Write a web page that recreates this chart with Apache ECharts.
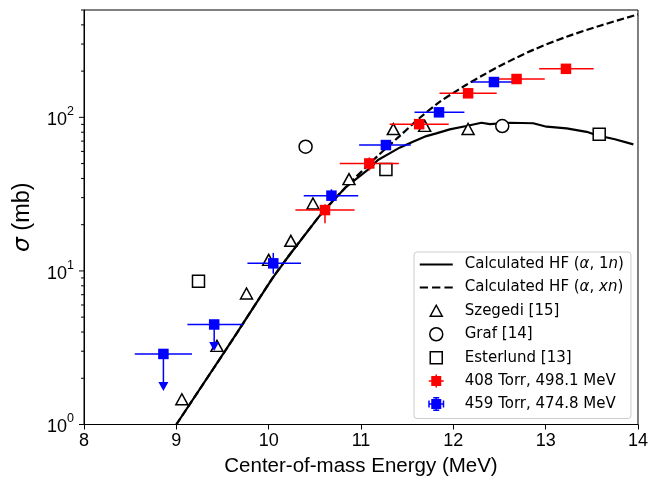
<!DOCTYPE html>
<html><head><meta charset="utf-8">
<script src="https://cdn.jsdelivr.net/npm/echarts@6/dist/echarts.min.js"></script>
<style>html,body{margin:0;padding:0;background:#fff}#c{width:651px;height:485px}</style>
</head><body><div id="c"></div>
<script>
// ---- axis ticks ----
const xTicks = [8, 9, 10, 11, 12, 13, 14];
const yMajorTicks = [1, 10, 100];
const yMinorTicks = [2, 3, 4, 5, 6, 7, 8, 9, 20, 30, 40, 50, 60, 70, 80, 90, 200, 300, 400, 500];

// ---- calculated HF (alpha,1n) ----
const hf1nE = [9.0, 9.6, 10.04, 10.225, 10.53, 10.604, 10.84, 11.093, 11.183, 11.31, 11.418, 11.563, 11.708, 11.816, 11.961, 12.142, 12.305, 12.395, 12.612, 12.865, 13.01, 13.227, 13.444, 13.553, 13.75, 13.95];
const hf1nS = [1.0, 3.5, 8.94, 12.7, 22.0, 24.9, 35.3, 46.5, 52.7, 58.3, 63.5, 69.4, 75.5, 78.7, 83.5, 87.8, 92.2, 90.4, 92.2, 91.5, 86.9, 84.8, 80.5, 76.5, 72.0, 66.7];
// ---- calculated HF (alpha,xn) ----
const hfxnE = [9.0, 9.6, 10.04, 10.225, 10.53, 10.604, 10.84, 11.093, 11.2, 11.31, 11.418, 11.635, 11.852, 12.0, 12.142, 12.32, 12.503, 12.865, 13.227, 13.589, 14.0];
const hfxnS = [1.0, 3.5, 8.94, 12.7, 22.0, 24.9, 35.3, 50, 57.5, 66, 75.5, 99, 126, 144, 163, 188, 216, 275, 335, 395, 468];

// ---- literature data ----
const szegediE = [9.06, 9.44, 9.76, 10.00, 10.24, 10.48, 10.87, 11.35, 11.69, 12.16];
const szegediS = [1.46, 3.25, 7.13, 11.8, 15.7, 27.5, 39.6, 83.9, 88.0, 84.0];
const grafE = [10.40, 12.53];
const grafS = [64.4, 87.8];
const esterlundE = [9.24, 11.27, 13.58];
const esterlundS = [8.58, 45.8, 77.5];

// ---- 408 Torr, 498.1 MeV ----
const r408E = [10.61, 11.09, 11.63, 12.16, 12.685, 13.22];
const r408S = [24.9, 50.1, 90.3, 143.4, 177.7, 207];
const r408Elo = [10.29, 10.77, 11.31, 11.85, 12.43, 12.93];
const r408Ehi = [10.93, 11.41, 11.95, 12.47, 12.99, 13.52];
const r408Slo = [20.4, 45.0, 86, 137, 170, 198];
const r408Shi = [27.2, 54.8, 95, 150, 186, 216];

// ---- 459 Torr, 474.8 MeV ----
const b459E = [8.86, 9.41, 10.05, 10.68, 11.27, 11.845, 12.44];
const b459S = [2.88, 4.48, 11.2, 30.9, 66.0, 107.8, 169.8];
const b459Elo = [8.55, 9.12, 9.77, 10.38, 10.98, 11.58, 12.20];
const b459Ehi = [9.17, 9.72, 10.35, 10.97, 11.54, 12.12, 12.65];
const b459Slo = [1.78, 3.25, 9.6, 28.3, 63, 103, 162];
const b459Shi = [2.88, 4.48, 13.1, 34.0, 69, 113, 178];
const b459UpperLimit = [1, 1, 0, 0, 0, 0, 0];

const N1 = 'Calculated HF (α, 1n)';
const NX = 'Calculated HF (α, xn)';
const NS = 'Szegedi [15]';
const NG = 'Graf [14]';
const NE = 'Esterlund [13]';
const NR = '408 Torr, 498.1 MeV';
const NB = '459 Torr, 474.8 MeV';

const zip = (a, b) => a.map((v, i) => [v, b[i]]);

function errRender(color) {
  return function (params, api) {
    const x = api.value(0), y = api.value(1);
    const xl = api.value(2), xh = api.value(3), yl = api.value(4), yh = api.value(5), up = api.value(6);
    const pl = api.coord([xl, y]), ph = api.coord([xh, y]);
    const pb = api.coord([x, yl]), pt = api.coord([x, yh]);
    const st = { stroke: color, lineWidth: 1.5 };
    const ch = [
      { type: 'line', shape: { x1: pl[0], y1: pl[1], x2: ph[0], y2: ph[1] }, style: st },
      { type: 'line', shape: { x1: pt[0], y1: pt[1], x2: pb[0], y2: pb[1] }, style: st }
    ];
    if (up) {
      ch.push({ type: 'polygon', shape: { points: [[pb[0] - 5, pb[1] - 4], [pb[0] + 5, pb[1] - 4], [pb[0], pb[1] + 5]] }, style: { fill: color } });
    }
    return { type: 'group', children: ch };
  };
}
function tickRender(len) {
  return function (params, api) {
    const p = api.coord([xTicks[0], api.value(1)]);
    return { type: 'line', shape: { x1: p[0] - len, y1: p[1], x2: p[0], y2: p[1] }, style: { stroke: '#000', lineWidth: 1 } };
  };
}

// legend icons drawn in a 33x14 box (corner points fix the box)
const BOX = 'M0,0L0,0M33,14L33,14';
const icSolid = 'path://' + BOX + 'M0,5.9H33V8.1H0Z';
const icDash = 'path://' + BOX + 'M0,5.9H8.3V8.1H0Z M12.3,5.9H20.6V8.1H12.3Z M24.7,5.9H33V8.1H24.7Z';
const icTri = 'path://' + BOX + 'M16.5,1.5L22.5,12.5L10.5,12.5Z';
const icCirc = 'path://' + BOX + 'M10,7A6.5,6.5 0 1 1 23,7A6.5,6.5 0 1 1 10,7Z';
const icSq = 'path://' + BOX + 'M10.5,1H22.5V13H10.5Z';
const icErr = 'path://' + BOX + 'M11.5,2H21.5V12H11.5Z M9,6.25H24V7.75H9Z M15.75,0.5H17.25V13.5H15.75Z';
const icErrCap = icErr + ' M8.5,3.5H10V10.5H8.5Z M23,3.5H24.5V10.5H23Z M13.5,0H19.5V1.5H13.5Z M13.5,12.5H19.5V14H13.5Z';

const openStyle = { color: '#fff', borderColor: '#000', borderWidth: 1.5 };

const chart = echarts.init(document.getElementById('c'), null, { renderer: 'canvas' });
chart.setOption({
  animation: false,
  backgroundColor: '#fff',
  grid: { left: 84, right: 11.5, top: 10, bottom: 60.5, show: true, borderColor: '#000', borderWidth: 1, backgroundColor: 'transparent' },
  xAxis: {
    type: 'value', min: xTicks[0], max: xTicks[xTicks.length - 1], interval: 1,
    axisLine: { lineStyle: { color: '#000', width: 1 } },
    axisTick: { length: 5, lineStyle: { color: '#000', width: 1 } },
    axisLabel: { color: '#000', fontFamily: 'Liberation Sans', fontSize: 18, margin: 8 },
    splitLine: { show: false },
    name: 'Center-of-mass Energy (MeV)', nameLocation: 'middle', nameGap: 30,
    nameTextStyle: { color: '#000', fontFamily: 'Liberation Sans', fontSize: 20.5 }
  },
  yAxis: {
    type: 'log', logBase: 10, min: yMajorTicks[0], max: yMinorTicks[yMinorTicks.length - 1],
    axisLine: { lineStyle: { color: '#000', width: 1 } },
    axisTick: { show: false },
    splitLine: { show: false },
    minorTick: { show: false },
    axisLabel: {
      margin: 10,
      formatter: function (v) {
        const e = Math.round(Math.log10(v));
        if (Math.abs(Math.log10(v) - e) > 1e-6) return '';
        return '{b|10}{s|' + e + '}';
      },
      rich: {
        b: { fontFamily: 'Liberation Sans', fontSize: 18, color: '#000', verticalAlign: 'bottom', lineHeight: 24 },
        s: { fontFamily: 'Liberation Sans', fontSize: 12.5, color: '#000', verticalAlign: 'top', lineHeight: 24 }
      }
    },
    name: '{i|σ}{t| (mb)}', nameLocation: 'middle', nameGap: 49, nameRotate: 90,
    nameTextStyle: {
      color: '#000', fontFamily: 'Liberation Sans', fontSize: 23.5,
      rich: {
        i: { fontFamily: 'DejaVu Sans', fontStyle: 'italic', fontSize: 23.5, color: '#000' },
        t: { fontFamily: 'Liberation Sans', fontSize: 23.5, color: '#000' }
      }
    }
  },
  legend: {
    orient: 'vertical', left: 414, top: 252,
    padding: [5, 7, 7, 5], itemGap: 8.0, itemWidth: 33, itemHeight: 14,
    backgroundColor: 'rgba(255,255,255,0.85)', borderColor: '#cccccc', borderWidth: 1, borderRadius: 3,
    selectedMode: false,
    textStyle: {
      fontFamily: 'DejaVu Sans', fontSize: 15, color: '#000', padding: [0, 0, 0, 7], lineHeight: 14,
      rich: {
        t: { fontFamily: 'DejaVu Sans', fontSize: 15, color: '#000', lineHeight: 14 },
        i: { fontFamily: 'DejaVu Sans', fontSize: 15, fontStyle: 'italic', color: '#000', lineHeight: 14 }
      }
    },
    formatter: function (name) {
      if (name === N1) return '{t|Calculated HF (}{i|α}{t|, 1}{i|n}{t|)}';
      if (name === NX) return '{t|Calculated HF (}{i|α}{t|, }{i|xn}{t|)}';
      return name;
    },
    data: [
      { name: N1, icon: icSolid, itemStyle: { color: '#000', borderWidth: 0 } },
      { name: NX, icon: icDash, itemStyle: { color: '#000', borderWidth: 0 } },
      { name: NS, icon: icTri, itemStyle: openStyle },
      { name: NG, icon: icCirc, itemStyle: openStyle },
      { name: NE, icon: icSq, itemStyle: openStyle },
      { name: NR, icon: icErr, itemStyle: { color: '#ff0000', borderWidth: 0 } },
      { name: NB, icon: icErrCap, itemStyle: { color: '#0000ff', borderWidth: 0 } }
    ]
  },
  series: [
    { type: 'custom', name: 'minorTicks', silent: true, renderItem: tickRender(3), data: yMinorTicks.map(v => [xTicks[0], v]), z: 5 },
    { type: 'custom', name: 'majorTicks', silent: true, renderItem: tickRender(5), data: yMajorTicks.map(v => [xTicks[0], v]), z: 5 },
    { type: 'line', name: N1, data: zip(hf1nE, hf1nS), symbol: 'none', lineStyle: { color: '#000', width: 2.2 }, itemStyle: { color: '#000' }, z: 2 },
    { type: 'line', name: NX, data: zip(hfxnE, hfxnS), symbol: 'none', smooth: 0.3, lineStyle: { color: '#000', width: 2.2, type: [7.4, 3.2] }, itemStyle: { color: '#000' }, z: 2 },
    { type: 'scatter', name: NS, data: zip(szegediE, szegediS), symbol: 'triangle', symbolSize: [12, 11], itemStyle: Object.assign({ opacity: 1 }, openStyle), z: 3 },
    { type: 'scatter', name: NG, data: zip(grafE, grafS), symbol: 'circle', symbolSize: 13, itemStyle: Object.assign({ opacity: 1 }, openStyle), z: 3 },
    { type: 'scatter', name: NE, data: zip(esterlundE, esterlundS), symbol: 'rect', symbolSize: 12, itemStyle: Object.assign({ opacity: 1 }, openStyle), z: 3 },
    { type: 'custom', name: NR, renderItem: errRender('#ff0000'), itemStyle: { color: '#ff0000' },
      data: r408E.map((v, i) => [v, r408S[i], r408Elo[i], r408Ehi[i], r408Slo[i], r408Shi[i], 0]), z: 4 },
    { type: 'scatter', name: NR, data: zip(r408E, r408S), symbol: 'rect', symbolSize: 10.5, itemStyle: { color: '#ff0000', opacity: 1 }, z: 4 },
    { type: 'custom', name: NB, renderItem: errRender('#0000ff'), itemStyle: { color: '#0000ff' },
      data: b459E.map((v, i) => [v, b459S[i], b459Elo[i], b459Ehi[i], b459Slo[i], b459Shi[i], b459UpperLimit[i]]), z: 4 },
    { type: 'scatter', name: NB, data: zip(b459E, b459S), symbol: 'rect', symbolSize: 10.5, itemStyle: { color: '#0000ff', opacity: 1 }, z: 4 }
  ]
});
</script></body></html>
